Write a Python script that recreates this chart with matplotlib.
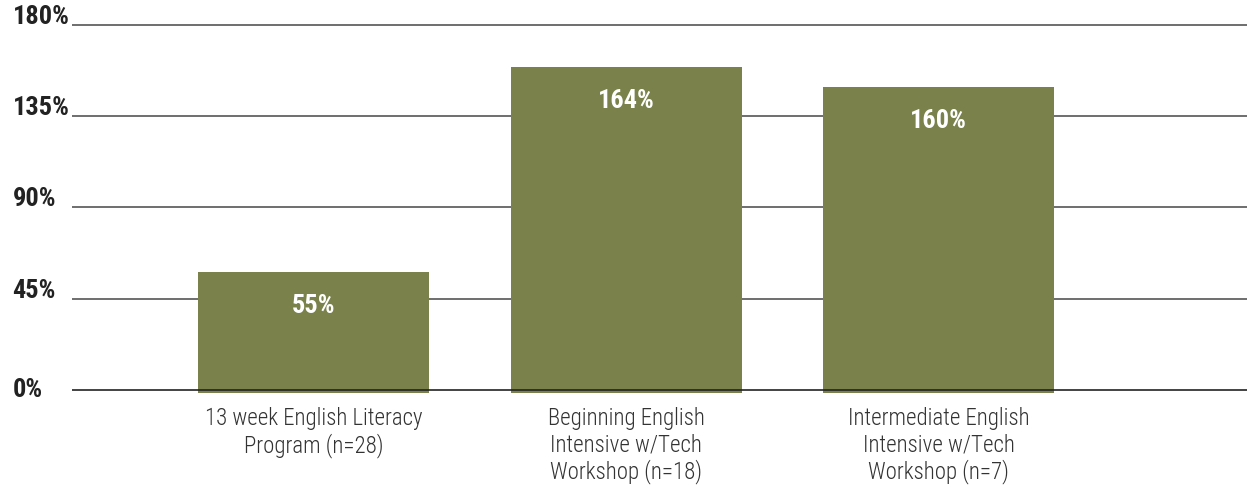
import matplotlib.pyplot as plt
from matplotlib import font_manager
from matplotlib.transforms import blended_transform_factory

# pick a condensed sans if one is installed
installed = {f.name for f in font_manager.fontManager.ttflist}
for cand in ['Roboto Condensed', 'Liberation Sans Narrow', 'Archivo Narrow',
             'Barlow Semi Condensed', 'DejaVu Sans']:
    if cand in installed:
        font = cand
        break
plt.rcParams['font.family'] = [font, 'DejaVu Sans']

# Data
categories = ['13 week English Literacy\nProgram (n=28)',
              'Beginning English\nIntensive w/Tech\nWorkshop (n=18)',
              'Intermediate English\nIntensive w/Tech\nWorkshop (n=7)']
bar_heights = [58.2, 159.3, 149.5]   # drawn height of each bar
bar_labels = ['55%', '164%', '160%']  # printed value labels
y_ticks = [0, 45, 90, 135, 180]
y_tick_labels = ['0%', '45%', '90%', '135%', '180%']

bar_color = '#7A814A'
grid_color = '#555555'

fig = plt.figure(figsize=(12.47, 4.88), dpi=100)
ax = fig.add_axes([72 / 1247, 0.1918, 1 - 72 / 1247, 0.9578 - 0.1918])

x = list(range(len(categories)))
ax.bar(x, [h + 1.2 for h in bar_heights], bottom=-1.2, width=0.739,
       color=bar_color, zorder=2)

# gridlines (zero line on top of bars)
for v in y_ticks:
    ax.axhline(v, color='#222222' if v == 0 else grid_color,
               linewidth=1.2, zorder=3 if v == 0 else 1)

ax.set_xlim(-0.7728, 2.987)
ax.set_ylim(-2, 182)
ax.axis('off')

# y tick labels, left-aligned at the figure edge
tr = blended_transform_factory(fig.transFigure, ax.transData)
for v, lab in zip(y_ticks, y_tick_labels):
    if v == 0:
        ax.text(12.5 / 1247, v, lab, transform=tr, ha='left', va='center',
                fontsize=19, fontweight='bold', color='#222222')
    else:
        ax.annotate(lab, xy=(12.5 / 1247, v), xycoords=tr,
                    xytext=(0, 1), textcoords='offset pixels',
                    ha='left', va='baseline', fontsize=19,
                    fontweight='bold', color='#222222')

# value labels inside bars
for xi, h, lab in zip(x, bar_heights, bar_labels):
    ax.annotate(lab, xy=(xi, h), xytext=(0, -34), textcoords='offset pixels',
                ha='center', va='center', fontsize=19, fontweight='bold',
                color='white', zorder=4)

# category labels under bars
for xi, lab in zip(x, categories):
    ax.annotate(lab, xy=(xi, 0), xytext=(0, -17), textcoords='offset pixels',
                ha='center', va='top', fontsize=16.5, fontweight='light',
                color='#333333', linespacing=1.15, annotation_clip=False)

fig.savefig('out.png', dpi=100)
